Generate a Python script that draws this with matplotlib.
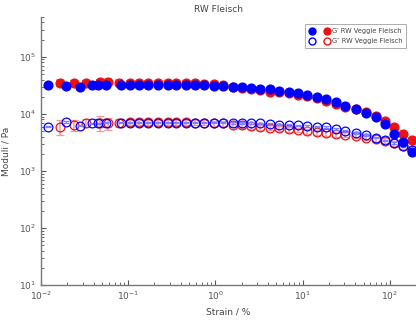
import matplotlib.pyplot as plt
from matplotlib.lines import Line2D
from matplotlib.legend_handler import HandlerTuple

# Strain (%) for the veggie sample (blue) and the meat sample (red)
strain_veggie = [0.0120, 0.0193, 0.0279, 0.0383, 0.0448, 0.0553, 0.0820,
                 0.104, 0.132, 0.167, 0.217, 0.283, 0.358, 0.466, 0.591,
                 0.749, 0.974, 1.23, 1.61, 2.04, 2.58, 3.27, 4.25, 5.39,
                 7.02, 8.89, 11.3, 14.6, 18.6, 24.2, 30.6, 40.8, 53.2,
                 69.2, 87.7, 111, 141, 178]
strain_fleisch = [0.0165, 0.0238, 0.0327, 0.0472, 0.0583, 0.0779,
                  0.104, 0.132, 0.167, 0.217, 0.283, 0.358, 0.466, 0.591,
                  0.749, 0.974, 1.23, 1.61, 2.04, 2.58, 3.27, 4.25, 5.39,
                  7.02, 8.89, 11.3, 14.6, 18.6, 24.2, 30.6, 40.8, 53.2,
                  69.2, 87.7, 111, 141, 178]

g1_veggie = [32000, 31000, 30000, 31500, 31500, 31500, 31500, 31500, 31500,
             31500, 31500, 31500, 32000, 32000, 32000, 32300, 31400, 31000,
             30200, 29400, 28600, 27800, 27100, 25600, 24700, 23400, 21800,
             20100, 18100, 16000, 13800, 12100, 10500, 8700, 6600, 4450,
             3270, 2180]
g2_veggie = [6000, 7150, 6250, 6850, 6850, 7050, 7050, 7050, 7050, 7050,
             7050, 7050, 7050, 7050, 7050, 7050, 7050, 7050, 7000, 6950,
             6900, 6800, 6700, 6500, 6400, 6300, 6200, 6000, 5900, 5400,
             5050, 4600, 4250, 3850, 3450, 3100, 2750, 2300]

g1_fleisch = [35500, 34500, 34500, 36000, 36000, 35500, 35000, 35000, 35000,
              35000, 35000, 35000, 35000, 34500, 34000, 33000, 31500, 30000,
              28500, 27000, 25800, 24500, 23800, 23000, 21800, 20300, 18700,
              16800, 15000, 13200, 12000, 10700, 9200, 7600, 5900, 4400, 3500]
g2_fleisch = [6000, 6400, 7050, 7050, 6850, 7050, 7100, 7100, 7100, 7100,
              7100, 7100, 7100, 7000, 7000, 6900, 6800, 6500, 6300, 6100,
              5900, 5700, 5600, 5400, 5250, 5000, 4800, 4600, 4450, 4300,
              4150, 3850, 3650, 3400, 3050, 2700, 2300]

# relative standard deviation of the red series
err1_fleisch = [0.12, 0.10, 0.08, 0.10, 0.12, 0.10] + [0.08] * 31
err2_fleisch = [0.30, 0.20, 0.15, 0.30, 0.25, 0.15] + [0.10] * 31

blue = '#0000ff'
red = '#ee1111'
ms = 6.3

fig = plt.figure(figsize=(4.16, 3.2), dpi=100)
ax = fig.add_axes([0.0986, 0.109, 0.9014, 0.838])

# red sample with error bars
ax.errorbar(strain_fleisch, g1_fleisch,
            yerr=[v * e for v, e in zip(g1_fleisch, err1_fleisch)],
            fmt='o', ms=ms, color=red, ecolor='#f29a9a', elinewidth=1.1,
            capsize=3, capthick=1.1, zorder=2)
ax.errorbar(strain_fleisch, g2_fleisch,
            yerr=[v * e for v, e in zip(g2_fleisch, err2_fleisch)],
            fmt='o', ms=ms, mfc='none', mec=red, mew=0.9, ecolor='#f29a9a',
            elinewidth=1.1, capsize=3, capthick=1.1, zorder=2)

# veggie sample with small error bars
ax.errorbar(strain_veggie, g1_veggie, yerr=[v * 0.03 for v in g1_veggie],
            fmt='o', ms=ms, color=blue, ecolor='#8080ff', elinewidth=1,
            capsize=2.5, capthick=1, zorder=3)
ax.errorbar(strain_veggie, g2_veggie, yerr=[v * 0.03 for v in g2_veggie],
            fmt='o', ms=ms, mfc='none', mec=blue, mew=0.9, ecolor='#8080ff',
            elinewidth=1, capsize=2.5, capthick=1, zorder=3)

ax.set_xscale('log')
ax.set_yscale('log')
ax.set_xlim(0.01, 200)
ax.set_ylim(10, 5e5)

for s in ['top', 'right']:
    ax.spines[s].set_visible(False)
for s in ['left', 'bottom']:
    ax.spines[s].set_color('#777777')
    ax.spines[s].set_linewidth(1)

ax.tick_params(which='both', direction='in', colors='#555555', labelsize=6.5)
ax.tick_params(which='major', length=3.5)
ax.tick_params(which='minor', length=2)
ax.set_yticks([10, 100, 1000, 1e4, 1e5])

ax.set_xlabel('Strain / %', fontsize=6.5, color='#444444', labelpad=4)
ax.set_ylabel('Moduli / Pa', fontsize=6.5, color='#444444', labelpad=6)

fig.text(0.525, 0.97, 'RW Fleisch', ha='center', va='center',
         fontsize=6.5, color='#444444')

h1 = (Line2D([], [], ls='none', marker='o', ms=5, color=blue),
      Line2D([], [], ls='none', marker='o', ms=5, color=red))
h2 = (Line2D([], [], ls='none', marker='o', ms=5, mfc='none', mec=blue),
      Line2D([], [], ls='none', marker='o', ms=5, mfc='none', mec=red))
leg = fig.legend([h1, h2], ["G′ RW Veggie Fleisch", "G″ RW Veggie Fleisch"],
                 handler_map={tuple: HandlerTuple(ndivide=None, pad=1.2)},
                 loc='upper right', bbox_to_anchor=(0.985, 0.935),
                 fontsize=4.8, frameon=True, fancybox=False,
                 handlelength=3.2, borderpad=0.6, labelspacing=0.6,
                 handletextpad=0.3, edgecolor='#888888')
leg.get_frame().set_linewidth(0.6)
for t in leg.get_texts():
    t.set_color('#444444')

fig.savefig('out.png', dpi=100)
